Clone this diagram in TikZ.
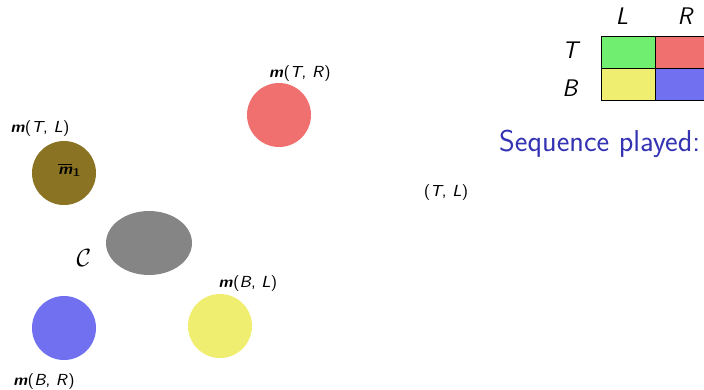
\documentclass[tikz,border=0pt]{standalone}
\usepackage{amsmath}
\usetikzlibrary{shapes.geometric}
\definecolor{cgreen}{HTML}{70EE70}
\definecolor{cred}{HTML}{F07070}
\definecolor{cyellow}{HTML}{F0EE70}
\definecolor{cblue}{HTML}{7070F0}
\definecolor{colive}{HTML}{8A7322}
\definecolor{cgray}{HTML}{858585}
\definecolor{struct}{HTML}{3333B3}
\newcommand{\mlab}[2]{\textbf{\textit{m}}(\textit{#1}, \textit{#2})}
\tikzset{
  blob/.style={circle, minimum size=64pt, inner sep=0pt},
  lab/.style={font=\sffamily\fontsize{8}{9}\selectfont, inner sep=0pt, scale=2.0},
  cell/.style={draw=black, line width=0.6pt, minimum width=54pt, minimum height=32pt, inner sep=0pt},
  hdr/.style={font=\sffamily\itshape\fontsize{24}{26}\selectfont, inner sep=0pt}
}
\begin{document}
\begin{tikzpicture}[x=1pt,y=-1pt]
\useasboundingbox (0,0) rectangle (704,389);
% table
\node[cell, fill=cgreen] (tl) at (628,52) {};
\node[cell, fill=cred] (tr) at (682,52) {};
\node[cell, fill=cyellow] (bl) at (628,84) {};
\node[cell, fill=cblue] (br) at (682,84) {};
\node[hdr] (hL) at (622,16) {L};
\node[hdr] (hR) at (685,16) {R};
\node[hdr] (hT) at (570,50) {T};
\node[hdr] (hB) at (570,88) {B};
\node[anchor=west, inner sep=0pt, text=struct, font=\sffamily\fontsize{30.2}{33}\selectfont] (seq) at (499,144) {Sequence played:};
% blobs
\node[blob, fill=colive] (olive) at (64,173) {};
\node[lab, font=\sffamily\bfseries\itshape\fontsize{8}{9}\selectfont] (m1) at (70,170) {$\overline{\mbox{\textit{m}}}_{\mathbf 1}$};
\node[blob, fill=cred] (red) at (279,115) {};
\node[blob, fill=cblue] (blue) at (64,328) {};
\node[blob, fill=cyellow] (yellow) at (220,326) {};
\node[ellipse, fill=cgray, minimum width=86pt, minimum height=64pt, inner sep=0pt] (gray) at (149,243) {};
% labels
\node[lab] (lTL) at (40,128) {\mlab{T}{L}};
\node[lab] (lTR) at (300,73) {\mlab{T}{R}};
\node[lab] (lBL) at (248,283) {\mlab{B}{L}};
\node[lab] (lBR) at (44,381) {\mlab{B}{R}};
\node[inner sep=0pt, font=\fontsize{24}{26}\selectfont] (C) at (84,258) {$\mathcal{C}$};
\node[lab] (play) at (446,192) {(\textit{T}, \textit{L})};
\end{tikzpicture}
\end{document}
